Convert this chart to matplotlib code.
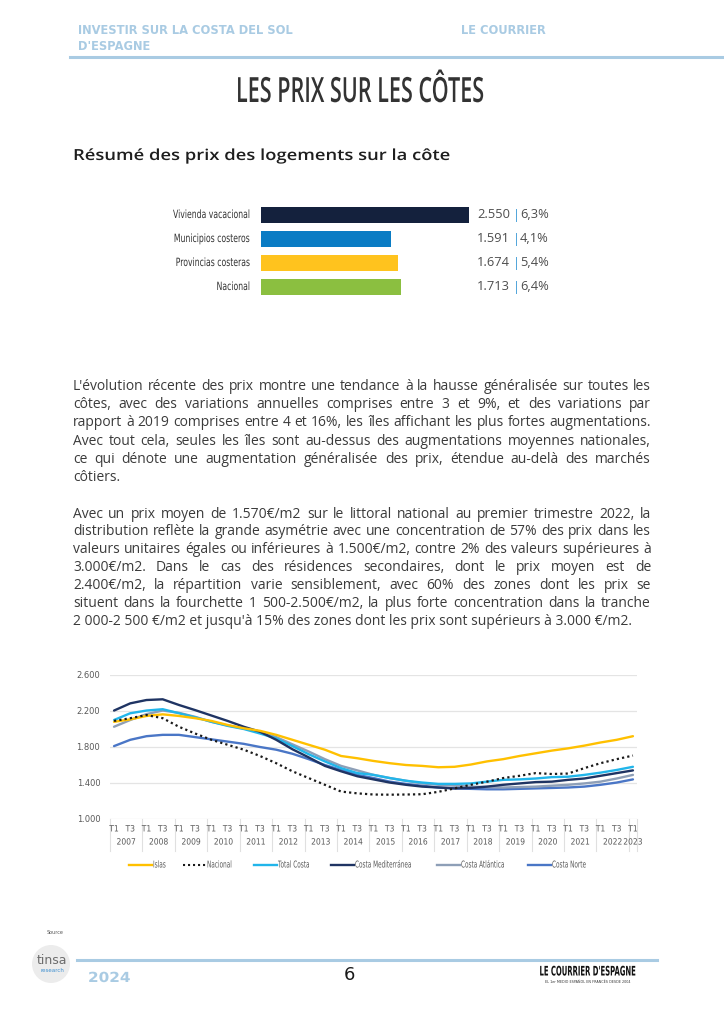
import numpy as np
import matplotlib
matplotlib.use('Agg')
import matplotlib.pyplot as plt
from matplotlib.lines import Line2D
from matplotlib.patches import Ellipse
from matplotlib.patheffects import AbstractPathEffect
from matplotlib.transforms import Affine2D

# ---- data ----
bar_labels = ['Vivienda vacacional', 'Municipios costeros', 'Provincias costeras', 'Nacional']
bar_prices = [2550, 1591, 1674, 1713]
bar_changes = ['6,3%', '4,1%', '5,4%', '6,4%']

years = list(range(2007, 2024))
# one value per half year: T1 and T3 of each year, 2007 T1 .. 2023 T1
islas = [2080, 2107, 2145, 2163, 2145, 2120, 2090, 2045, 2008, 1980, 1935, 1880, 1825, 1770, 1700, 1675,
         1645, 1620, 1600, 1590, 1575, 1580, 1605, 1640, 1665, 1700, 1730, 1760, 1785, 1815, 1850, 1880, 1920]
nacional = [2090, 2120, 2155, 2120, 2025, 1950, 1880, 1825, 1770, 1700, 1620, 1530, 1455, 1380, 1305, 1285,
            1272, 1270, 1272, 1275, 1302, 1340, 1380, 1415, 1455, 1480, 1510, 1500, 1505, 1565, 1620, 1665, 1705]
total_costa = [2100, 2175, 2205, 2220, 2175, 2130, 2080, 2035, 2000, 1950, 1895, 1810, 1720, 1640, 1565, 1510,
               1490, 1455, 1425, 1405, 1390, 1390, 1395, 1415, 1435, 1440, 1450, 1465, 1470, 1490, 1515, 1545, 1580]
costa_med = [2205, 2285, 2322, 2330, 2267, 2210, 2150, 2090, 2025, 1970, 1880, 1775, 1685, 1590, 1530, 1475,
             1440, 1405, 1380, 1360, 1350, 1340, 1345, 1360, 1380, 1395, 1410, 1415, 1435, 1450, 1480, 1510, 1540]
costa_atl = [2025, 2100, 2165, 2205, 2180, 2135, 2080, 2040, 2005, 1970, 1910, 1830, 1750, 1665, 1590, 1540,
             1490, 1455, 1425, 1395, 1380, 1370, 1360, 1355, 1350, 1355, 1360, 1370, 1380, 1395, 1415, 1450, 1490]
costa_norte = [1810, 1880, 1920, 1935, 1935, 1910, 1885, 1860, 1835, 1800, 1770, 1725, 1665, 1600, 1545, 1490,
               1455, 1415, 1390, 1370, 1350, 1340, 1335, 1330, 1330, 1335, 1340, 1345, 1350, 1360, 1380, 1405, 1440]
y_ticks = [1000, 1400, 1800, 2200, 2600]

para1 = ["L'évolution récente des prix montre une tendance à la hausse généralisée sur toutes les",
         "côtes, avec des variations annuelles comprises entre 3 et 9%, et des variations par",
         "rapport à 2019 comprises entre 4 et 16%, les îles affichant les plus fortes augmentations.",
         "Avec tout cela, seules les îles sont au-dessus des augmentations moyennes nationales,",
         "ce qui dénote une augmentation généralisée des prix, étendue au-delà des marchés",
         "côtiers."]
para2 = ["Avec un prix moyen de 1.570€/m2 sur le littoral national au premier trimestre 2022, la",
         "distribution reflète la grande asymétrie avec une concentration de 57% des prix dans les",
         "valeurs unitaires égales ou inférieures à 1.500€/m2, contre 2% des valeurs supérieures à",
         "3.000€/m2. Dans le cas des résidences secondaires, dont le prix moyen est de",
         "2.400€/m2, la répartition varie sensiblement, avec 60% des zones dont les prix se",
         "situent dans la fourchette 1 500-2.500€/m2, la plus forte concentration dans la tranche",
         "2 000-2 500 €/m2 et jusqu'à 15% des zones dont les prix sont supérieurs à 3.000 €/m2."]

W, H = 724, 1024
fig = plt.figure(figsize=(7.24, 10.24), dpi=100)
fig.patch.set_facecolor('white')
r = fig.canvas.get_renderer()


def fx(px):
    return px / W


def fy(py):
    return 1 - py / H


class Squeeze(AbstractPathEffect):
    # narrows (or widens) the glyphs around the text's anchor point
    def __init__(self, text, sx):
        super().__init__()
        self.text = text
        self.sx = sx

    def draw_path(self, renderer, gc, tpath, affine, rgbFace=None):
        x0 = self.text.get_transform().transform(self.text.get_position())[0]
        tr = affine + Affine2D().translate(-x0, 0).scale(self.sx, 1).translate(x0, 0)
        renderer.draw_path(gc, tpath, tr, rgbFace)


def squeeze(t, sx):
    t.set_path_effects([Squeeze(t, sx)])
    return t


def sqtext(x, y, s, sx, **kw):
    return squeeze(fig.text(x, y, s, **kw), sx)


def width_of(s, **kw):
    t = fig.text(0, 0, s, **kw)
    w = t.get_window_extent(r).width
    t.remove()
    return w


def fit_width(t, target):
    w = t.get_window_extent(r).width
    t.set_fontsize(t.get_fontsize() * target / w)


# ---- header ----
hdr_col = '#a9cbe3'
t = fig.text(fx(78), fy(31), 'INVESTIR SUR LA COSTA DEL SOL', fontsize=8.2, weight='bold',
             color=hdr_col, va='center', family='DejaVu Sans')
fit_width(t, 215)
fig.text(fx(78), fy(46), "D'ESPAGNE", fontsize=t.get_fontsize(), weight='bold',
         color=hdr_col, va='center', family='DejaVu Sans')
fig.text(fx(461), fy(31), 'LE COURRIER', fontsize=t.get_fontsize(), weight='bold',
         color=hdr_col, va='center', family='DejaVu Sans')
fig.add_artist(Line2D([fx(70), 1], [fy(57), fy(57)], color=hdr_col, lw=2.2, transform=fig.transFigure))

# title, a tall narrow face
title = 'LES PRIX SUR LES CÔTES'
tkw = dict(fontsize=25, weight='semibold', family='Open Sans')
sx_title = 248 / width_of(title, **tkw)
sqtext(fx(360), fy(102), title, sx_title, color='#333333', ha='center', va='baseline', **tkw)

sub = 'Résumé des prix des logements sur la côte'
skw = dict(fontsize=11, weight='semibold', family='Open Sans')
sx_sub = 376 / width_of(sub, **skw)
sqtext(fx(73), fy(160), sub, sx_sub, color='#1e1e1e', va='baseline', **skw)

# ---- bar chart ----
bar_colors = ['#14213d', '#0a7cc4', '#ffc31e', '#8bbf40']
axb = fig.add_axes([fx(261), fy(299), fx(471) - fx(261), 96 / H])
axb.barh(range(len(bar_labels)), bar_prices, height=0.66, color=bar_colors)
axb.set_xlim(0, 2575)
axb.set_ylim(3.5, -0.5)
axb.axis('off')
lkw = dict(fontsize=8.2, family='DejaVu Sans')
sx_lab = 77 / width_of(bar_labels[0], **lkw)
vkw = dict(fontsize=9.3, family='Open Sans', color='#4d4d4d', va='center')
for i, lab in enumerate(bar_labels):
    yy = 215 + 24 * i
    sqtext(fx(250), fy(yy), lab, sx_lab, color='#333333', ha='right', va='center', **lkw)
    fig.text(fx(477), fy(yy), f'{bar_prices[i]:,}'.replace(',', '.'), **vkw)
    fig.text(fx(513), fy(yy), '|', fontsize=9.3, family='Open Sans', color='#3d9bd6', va='center')
    fig.text(fx(520), fy(yy), bar_changes[i], **vkw)

# ---- paragraphs (justified) ----
body = dict(family='Open Sans', color='#3b3b3b')
X0, X1 = 73, 651
widths = [width_of(line, fontsize=10, **body) for line in para1 + para2]
body_size = 10 * (X1 - X0) / max(widths) * 0.995


def justify(lines, y0, step):
    for i, line in enumerate(lines):
        y = y0 + i * step
        if i == len(lines) - 1:
            fig.text(fx(X0), fy(y), line, fontsize=body_size, va='baseline', **body)
            continue
        words = line.split(' ')
        ts = [fig.text(0, fy(y), w_, fontsize=body_size, va='baseline', **body) for w_ in words]
        ws = [q.get_window_extent(r).width for q in ts]
        gap = (X1 - X0 - sum(ws)) / (len(ws) - 1)
        x = X0
        for q, w_ in zip(ts, ws):
            q.set_x(fx(x))
            x += w_ + gap


justify(para1, 390, 18.25)
justify(para2, 517.5, 17.95)

# ---- line chart ----
ax = fig.add_axes([fx(110), fy(819), fx(637) - fx(110), 144 / H])
xq = np.arange(0, 65, 2)
series = [
    ('Islas', islas, '#ffc000', '-'),
    ('Nacional', nacional, '#1a1a1a', (0, (1, 1.4))),
    ('Total Costa', total_costa, '#21b5ea', '-'),
    ('Costa Mediterránea', costa_med, '#1f3463', '-'),
    ('Costa Atlántica', costa_atl, '#8e9fb7', '-'),
    ('Costa Norte', costa_norte, '#4a76c6', '-'),
]
zord = {'Costa Norte': 2, 'Costa Atlántica': 3, 'Total Costa': 4, 'Costa Mediterránea': 5,
        'Islas': 6, 'Nacional': 7}
for name, vals, col, ls in series:
    ax.plot(xq, vals, color=col, lw=1.7 if name != 'Nacional' else 1.6, ls=ls,
            label=name, zorder=zord[name], solid_capstyle='round')
ax.set_xlim(-0.5, 64.5)
ax.set_ylim(1000, 2600)
ax.set_yticks(y_ticks)
ax.set_yticklabels([f'{v:,}'.replace(',', '.') for v in y_ticks], fontsize=6, color='#595959')
ax.tick_params(axis='y', length=0, pad=7)
ax.set_xticks([])
for v in y_ticks:
    ax.axhline(v, color='#e4e4e4', lw=0.9, zorder=0)
for s in ax.spines.values():
    s.set_visible(False)

tr = ax.get_xaxis_transform()
akw = dict(transform=tr, ha='center', va='center', fontsize=6.2, color='#595959')
for k, yr in enumerate(years):
    q0 = 4 * k
    squeeze(ax.text(q0, -0.069, 'T1', **akw), 0.88)
    if yr < 2023:
        squeeze(ax.text(q0 + 2, -0.069, 'T3', **akw), 0.88)
        squeeze(ax.text(q0 + 1.5, -0.16, str(yr), **akw), 0.88)
    else:
        squeeze(ax.text(q0, -0.16, str(yr), **akw), 0.88)
    ax.plot([q0 - 0.5, q0 - 0.5], [0, -0.22], transform=tr, color='#e0e0e0', lw=0.8, clip_on=False)
ax.plot([64.5, 64.5], [0, -0.22], transform=tr, color='#e0e0e0', lw=0.8, clip_on=False)

# legend drawn by hand: short line then a narrow label
leg_x = [129, 183, 254, 331, 437, 528]
gkw = dict(fontsize=6.8, family='DejaVu Sans')
sx_leg = 57 / width_of('Costa Mediterránea', **gkw)
for (name, vals, col, ls), x in zip(series, leg_x):
    fig.add_artist(Line2D([fx(x), fx(x + 23)], [fy(865), fy(865)], color=col, ls=ls,
                          lw=1.7 if name != 'Nacional' else 1.5, transform=fig.transFigure))
    sqtext(fx(x + 24), fy(865), name, sx_leg, color='#595959', va='center', **gkw)

# ---- footer ----
fig.text(fx(55), fy(933), 'Source', fontsize=3.5, color='#555555', ha='center', va='center')
fig.add_artist(Ellipse((fx(51), fy(964)), 38 / W, 38 / H, transform=fig.transFigure,
                       facecolor='#ececec', edgecolor='none'))
fig.text(fx(52), fy(960), 'tinsa', fontsize=9, color='#6d6d6d', ha='center', va='center')
fig.text(fx(52), fy(970), 'research', fontsize=4, color='#3d8fd0', ha='center', va='center')
fig.add_artist(Line2D([fx(77), fx(657)], [fy(960), fy(960)], color=hdr_col, lw=2.2,
                      transform=fig.transFigure))
t = fig.text(fx(88), fy(978), '2024', fontsize=10, weight='bold', color=hdr_col, va='center',
             family='DejaVu Sans')
squeeze(t, 1.1)
fig.text(fx(349), fy(975), '6', fontsize=13, color='#1a1a1a', ha='center', va='center',
         family='DejaVu Sans')
brand = "LE COURRIER D'ESPAGNE"
bkw = dict(fontsize=9.5, weight='bold', family='DejaVu Sans')
sqtext(fx(588), fy(972), brand, 97 / width_of(brand, **bkw), color='#111111',
       ha='center', va='center', **bkw)
fig.text(fx(588), fy(982), 'EL 1er MEDIO ESPAÑOL EN FRANCÉS DESDE 2004', fontsize=2.4,
         color='#333333', ha='center', va='center')

fig.savefig('out.png', dpi=100)
